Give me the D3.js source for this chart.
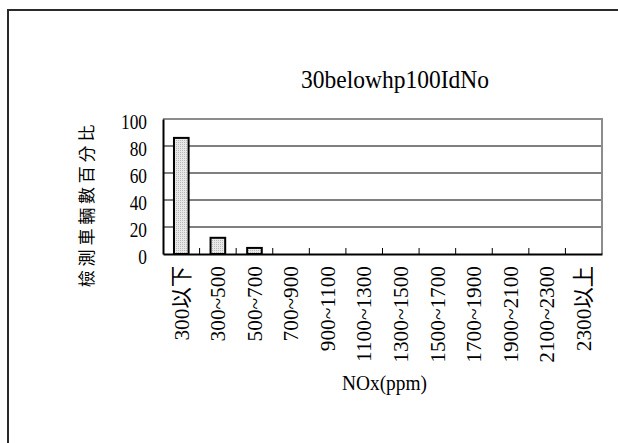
<!DOCTYPE html>
<html>
<head>
<meta charset="utf-8">
<script src="https://cdn.jsdelivr.net/npm/d3@7"></script>
<style>
  body { margin: 0; background: #fff; }
</style>
</head>
<body>
<svg id="chart"></svg>
<script>
const categories = ["300以下", "300~500", "500~700", "700~900", "900~1100", "1100~1300",
  "1300~1500", "1500~1700", "1700~1900", "1900~2100", "2100~2300", "2300以上"];
const percentValues = [86, 12, 4.5, 0, 0, 0, 0, 0, 0, 0, 0, 0];
const yTicks = [0, 20, 40, 60, 80, 100];
const chartTitle = "30belowhp100IdNo";
const xTitle = "NOx(ppm)";
const yTitle = "檢測車輛數百分比";

const width = 618, height = 443;
const plot = { left: 163, right: 602, top: 119, bottom: 254 };
const serifFont = "'Liberation Serif', 'Noto Sans CJK TC'";

const svg = d3.select("#chart").attr("width", width).attr("height", height);

// the original font is narrow and tall, so squeeze the serif text to measured widths
function squeezeTo(sample, size, target) {
  const t = svg.append("text").style("font-family", serifFont).attr("font-size", size).text(sample);
  const w = t.node().getComputedTextLength();
  t.remove();
  return w > 0 ? target / w : 1;
}
const kTick = squeezeTo("100", 22, 26);
const kTitle = squeezeTo(chartTitle, 26, 188);
const kXTitle = squeezeTo(xTitle, 21, 85);
const kLabel = squeezeTo("1100~1300", 22, 96);

// outer chart frame (runs off the right and bottom edge)
svg.append("rect")
  .attr("x", 8).attr("y", 10)
  .attr("width", 700).attr("height", 500)
  .attr("fill", "none")
  .attr("stroke", "#2a2a2a")
  .attr("stroke-width", 2);

// stippled bar fill
const pat = svg.append("defs").append("pattern")
  .attr("id", "dots").attr("width", 2).attr("height", 2)
  .attr("patternUnits", "userSpaceOnUse");
pat.append("rect").attr("width", 2).attr("height", 2).attr("fill", "#e8e8e8");
pat.append("rect").attr("width", 1).attr("height", 1).attr("fill", "#b8b8b8");

const xScale = d3.scaleBand().domain(categories).range([plot.left, plot.right]);
const yScale = d3.scaleLinear().domain([0, 100]).range([plot.bottom, plot.top]);

// gridlines
svg.append("g").selectAll("line")
  .data(yTicks.filter(d => d > 0 && d < 100))
  .join("line")
  .attr("x1", plot.left).attr("x2", plot.right)
  .attr("y1", d => yScale(d)).attr("y2", d => yScale(d))
  .attr("stroke", "#000").attr("stroke-width", 1);

// plot area border, top and right in gray
svg.append("path")
  .attr("d", `M${plot.left},${yScale(100)}H${plot.right}V${plot.bottom}`)
  .attr("fill", "none")
  .attr("stroke", "#8c8c8c")
  .attr("stroke-width", 2);

// bars
const barW = xScale.bandwidth() / 2.5;
svg.append("g").selectAll("rect")
  .data(percentValues)
  .join("rect")
  .attr("x", (d, i) => xScale(categories[i]) + (xScale.bandwidth() - barW) / 2)
  .attr("y", d => yScale(d))
  .attr("width", barW)
  .attr("height", d => yScale(0) - yScale(d))
  .attr("fill", "url(#dots)")
  .attr("stroke", "#000")
  .attr("stroke-width", d => d > 0 ? 2 : 0);

// y axis
const yAxis = svg.append("g")
  .attr("transform", `translate(${plot.left},0)`)
  .call(d3.axisLeft(yScale).tickValues(yTicks).tickSize(0).tickPadding(16));
yAxis.select(".domain").attr("stroke", "#000").attr("stroke-width", 2);
yAxis.selectAll("text")
  .style("font-family", serifFont)
  .attr("font-size", 22)
  .attr("fill", "#000")
  .attr("x", -16 / kTick)
  .attr("dy", "0.42em")
  .attr("transform", `scale(${kTick},1)`);

// x axis
const xAxis = svg.append("g")
  .attr("transform", `translate(0,${plot.bottom})`)
  .call(d3.axisBottom(xScale).tickSize(0));
xAxis.select(".domain").attr("stroke", "#000").attr("stroke-width", 2);
xAxis.selectAll("text")
  .style("font-family", serifFont)
  .attr("font-size", 22)
  .attr("fill", "#000")
  .attr("text-anchor", "end")
  .attr("x", -12 / kLabel)
  .attr("y", 0)
  .attr("dy", "0.33em")
  .attr("transform", `rotate(-90) scale(${kLabel},1)`);

// tick marks at category boundaries, pointing up
svg.append("g").selectAll("line")
  .data(categories.slice(1))
  .join("line")
  .attr("x1", d => xScale(d)).attr("x2", d => xScale(d))
  .attr("y1", plot.bottom).attr("y2", plot.bottom - 6)
  .attr("stroke", "#000").attr("stroke-width", 1);

// titles
svg.append("text")
  .style("font-family", serifFont)
  .attr("transform", `translate(395,88) scale(${kTitle},1)`)
  .attr("text-anchor", "middle")
  .attr("font-size", 26)
  .text(chartTitle);

svg.append("text")
  .style("font-family", serifFont)
  .attr("transform", `translate(${(plot.left + plot.right) / 2 + 2},390) scale(${kXTitle},1)`)
  .attr("text-anchor", "middle")
  .attr("font-size", 21)
  .text(xTitle);

svg.append("text")
  .style("font-family", "'Noto Sans CJK TC'")
  .attr("transform", "translate(93,204) rotate(-90)")
  .attr("text-anchor", "middle")
  .attr("font-size", 17)
  .attr("letter-spacing", "3.8px")
  .text(yTitle);
</script>
</body>
</html>
